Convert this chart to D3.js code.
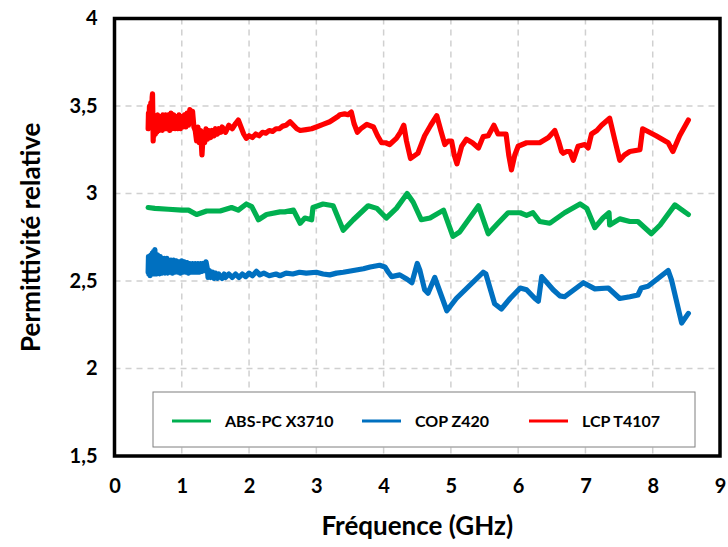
<!DOCTYPE html>
<html><head><meta charset="utf-8">
<script src="https://cdn.jsdelivr.net/npm/d3@7"></script>
<style>body{margin:0;background:#fff;font-family:Lato,"Open Sans",sans-serif;}</style>
</head><body><svg id="c" width="728" height="547"></svg>
<script>
const xTicks=[0,1,2,3,4,5,6,7,8,9];
const yTicks=[1.5,2,2.5,3,3.5,4];
const yTickLabels=["1,5","2","2,5","3","3,5","4"];
const seriesNames=["ABS-PC X3710","COP Z420","LCP T4107"];
const seriesColors=["#00B050","#0070C0","#FF0000"];

const absPc=[[0.50,2.92],[0.6,2.915],[0.8,2.91],[1.0,2.905],[1.10,2.905],[1.22,2.88],[1.37,2.90],[1.57,2.90],[1.74,2.92],[1.84,2.905],[1.96,2.94],[2.04,2.925],[2.14,2.85],[2.26,2.88],[2.46,2.895],[2.53,2.895],[2.66,2.905],[2.76,2.83],[2.83,2.86],[2.93,2.85],[2.95,2.92],[3.10,2.94],[3.25,2.93],[3.40,2.79],[3.55,2.85],[3.77,2.93],[3.90,2.915],[4.04,2.86],[4.19,2.915],[4.35,3.00],[4.44,2.95],[4.56,2.85],[4.69,2.86],[4.89,2.905],[5.03,2.755],[5.13,2.78],[5.41,2.93],[5.555,2.77],[5.70,2.83],[5.85,2.89],[6.03,2.89],[6.125,2.875],[6.22,2.89],[6.32,2.84],[6.47,2.83],[6.69,2.89],[6.92,2.94],[7.02,2.915],[7.14,2.805],[7.26,2.86],[7.35,2.89],[7.36,2.82],[7.51,2.855],[7.66,2.84],[7.78,2.84],[7.98,2.77],[8.11,2.82],[8.33,2.935],[8.53,2.88]];

const copZ=[[0.50,2.55],[0.505,2.64],[0.51,2.54],[0.52,2.63],[0.53,2.53],[0.54,2.65],[0.55,2.54],[0.56,2.66],[0.57,2.55],[0.58,2.67],[0.59,2.54],[0.60,2.68],[0.61,2.55],[0.62,2.64],[0.63,2.54],[0.64,2.65],[0.65,2.545],[0.66,2.63],[0.67,2.54],[0.68,2.64],[0.69,2.55],[0.70,2.63],[0.71,2.545],[0.72,2.62],[0.73,2.55],[0.74,2.63],[0.75,2.545],[0.76,2.62],[0.77,2.55],[0.78,2.63],[0.79,2.545],[0.80,2.62],[0.82,2.55],[0.84,2.62],[0.86,2.545],[0.88,2.62],[0.90,2.55],[0.92,2.615],[0.94,2.55],[0.96,2.61],[0.98,2.545],[1.00,2.615],[1.02,2.55],[1.04,2.61],[1.06,2.55],[1.08,2.605],[1.10,2.545],[1.12,2.60],[1.14,2.55],[1.16,2.60],[1.18,2.55],[1.20,2.60],[1.22,2.55],[1.24,2.60],[1.26,2.55],[1.28,2.60],[1.30,2.555],[1.32,2.60],[1.34,2.56],[1.36,2.61],[1.38,2.57],[1.39,2.52],[1.41,2.56],[1.43,2.52],[1.46,2.55],[1.48,2.515],[1.50,2.545],[1.53,2.515],[1.55,2.54],[1.60,2.515],[1.63,2.54],[1.65,2.52],[1.70,2.54],[1.75,2.52],[1.80,2.54],[1.85,2.52],[1.90,2.54],[1.95,2.525],[2.00,2.545],[2.05,2.53],[2.11,2.555],[2.16,2.535],[2.22,2.545],[2.30,2.53],[2.40,2.54],[2.46,2.53],[2.55,2.545],[2.65,2.54],[2.75,2.55],[2.85,2.545],[3.00,2.55],[3.10,2.54],[3.20,2.535],[3.30,2.545],[3.40,2.55],[3.55,2.56],[3.70,2.57],[3.80,2.58],[3.94,2.59],[4.02,2.58],[4.07,2.55],[4.12,2.525],[4.24,2.535],[4.35,2.51],[4.42,2.49],[4.50,2.60],[4.54,2.56],[4.61,2.45],[4.66,2.43],[4.76,2.52],[4.94,2.33],[5.08,2.40],[5.48,2.55],[5.52,2.54],[5.65,2.37],[5.75,2.34],[5.88,2.40],[6.03,2.46],[6.125,2.45],[6.25,2.40],[6.30,2.385],[6.35,2.525],[6.52,2.45],[6.62,2.415],[6.69,2.41],[6.97,2.49],[7.14,2.455],[7.34,2.46],[7.51,2.40],[7.66,2.41],[7.78,2.42],[7.83,2.46],[7.93,2.47],[8.23,2.56],[8.28,2.505],[8.43,2.26],[8.53,2.315]];

const lcpT=[[0.50,3.37],[0.505,3.46],[0.51,3.38],[0.52,3.50],[0.53,3.38],[0.54,3.52],[0.55,3.40],[0.56,3.55],[0.565,3.57],[0.57,3.44],[0.575,3.30],[0.58,3.40],[0.59,3.33],[0.60,3.44],[0.61,3.34],[0.62,3.43],[0.63,3.35],[0.64,3.45],[0.65,3.36],[0.66,3.44],[0.67,3.36],[0.68,3.44],[0.69,3.37],[0.70,3.44],[0.71,3.36],[0.72,3.45],[0.73,3.37],[0.74,3.44],[0.75,3.37],[0.76,3.45],[0.77,3.37],[0.78,3.44],[0.79,3.37],[0.80,3.45],[0.82,3.36],[0.84,3.46],[0.86,3.37],[0.88,3.45],[0.90,3.37],[0.92,3.44],[0.94,3.37],[0.96,3.45],[0.98,3.37],[1.00,3.44],[1.02,3.38],[1.04,3.45],[1.06,3.38],[1.08,3.46],[1.10,3.39],[1.12,3.48],[1.14,3.41],[1.16,3.47],[1.18,3.38],[1.20,3.36],[1.22,3.30],[1.24,3.38],[1.26,3.29],[1.28,3.36],[1.30,3.22],[1.32,3.35],[1.34,3.29],[1.36,3.37],[1.38,3.31],[1.40,3.36],[1.43,3.32],[1.45,3.36],[1.48,3.33],[1.50,3.37],[1.53,3.34],[1.55,3.37],[1.58,3.35],[1.60,3.38],[1.65,3.35],[1.70,3.39],[1.75,3.37],[1.80,3.40],[1.84,3.42],[1.88,3.38],[1.92,3.34],[1.96,3.315],[2.00,3.33],[2.05,3.32],[2.10,3.34],[2.15,3.33],[2.20,3.35],[2.25,3.345],[2.30,3.36],[2.35,3.355],[2.40,3.37],[2.45,3.37],[2.50,3.385],[2.55,3.39],[2.61,3.41],[2.66,3.39],[2.71,3.37],[2.76,3.36],[2.85,3.365],[2.93,3.37],[3.00,3.38],[3.10,3.395],[3.20,3.41],[3.28,3.43],[3.32,3.44],[3.35,3.45],[3.42,3.455],[3.47,3.45],[3.52,3.465],[3.56,3.40],[3.61,3.35],[3.66,3.37],[3.75,3.395],[3.85,3.38],[3.91,3.33],[3.97,3.29],[4.03,3.29],[4.09,3.28],[4.19,3.315],[4.25,3.35],[4.30,3.39],[4.34,3.30],[4.40,3.20],[4.51,3.23],[4.61,3.33],[4.70,3.39],[4.79,3.445],[4.85,3.36],[4.91,3.28],[4.96,3.30],[5.01,3.30],[5.05,3.22],[5.09,3.17],[5.16,3.27],[5.23,3.31],[5.32,3.29],[5.41,3.26],[5.48,3.325],[5.555,3.33],[5.64,3.39],[5.70,3.34],[5.82,3.34],[5.86,3.22],[5.90,3.135],[5.95,3.22],[6.0,3.27],[6.125,3.29],[6.32,3.29],[6.45,3.32],[6.545,3.36],[6.60,3.30],[6.645,3.24],[6.67,3.23],[6.72,3.24],[6.77,3.24],[6.80,3.21],[6.82,3.19],[6.89,3.27],[6.99,3.28],[7.04,3.26],[7.09,3.34],[7.17,3.36],[7.24,3.39],[7.36,3.43],[7.44,3.30],[7.51,3.19],[7.58,3.22],[7.66,3.24],[7.81,3.25],[7.85,3.37],[8.05,3.33],[8.23,3.29],[8.30,3.24],[8.40,3.33],[8.53,3.42]];

const seriesData=[absPc,copZ,lcpT];

const svg=d3.select("#c");
const L=114.5,R=720,T=18.5,B=456;
const x=d3.scaleLinear().domain([0,9]).range([L,R]);
const y=d3.scaleLinear().domain([1.5,4]).range([B,T]);

// grid
svg.append("g").selectAll("line").data(xTicks.filter(d=>d>0&&d<9)).join("line")
 .attr("x1",d=>x(d)).attr("x2",d=>x(d)).attr("y1",T).attr("y2",B)
 .attr("stroke","#d0d0d0").attr("stroke-width",1.5).attr("stroke-dasharray","6,5");
svg.append("g").selectAll("line").data(yTicks.filter(d=>d>1.5&&d<4)).join("line")
 .attr("x1",L).attr("x2",R).attr("y1",d=>y(d)).attr("y2",d=>y(d))
 .attr("stroke","#d0d0d0").attr("stroke-width",1.5).attr("stroke-dasharray","6,5");

// axes (labels only)
const xAxis=d3.axisBottom(x).tickValues(xTicks).tickSize(0).tickPadding(23).tickFormat(d3.format("d"));
const gx=svg.append("g").attr("transform",`translate(0,${B})`).call(xAxis);
gx.select(".domain").remove();
gx.selectAll("text").attr("font-size",20).attr("font-weight","bold").attr("fill","#000").attr("font-family","Lato");
const yAxis=d3.axisLeft(y).tickValues(yTicks).tickSize(0).tickPadding(17).tickFormat((d,i)=>yTickLabels[i]);
const gy=svg.append("g").attr("transform",`translate(${L},0)`).call(yAxis);
gy.select(".domain").remove();
gy.selectAll("text").attr("font-size",20).attr("font-weight","bold").attr("fill","#000").attr("font-family","Lato");

// lines
const line=d3.line().x(d=>x(d[0])).y(d=>y(d[1]));
seriesData.forEach((s,i)=>{
 svg.append("path").datum(s).attr("d",line).attr("fill","none")
  .attr("stroke",seriesColors[i]).attr("stroke-width",5.2).attr("stroke-linejoin","round").attr("stroke-linecap","round");
});

// frame
svg.append("rect").attr("x",L).attr("y",T).attr("width",R-L).attr("height",B-T)
 .attr("fill","none").attr("stroke","#000").attr("stroke-width",3.5);

// legend
svg.append("rect").attr("x",153).attr("y",392).attr("width",542).attr("height",55)
 .attr("fill","#fff").attr("stroke","#7f7f7f").attr("stroke-width",1);
const legX=[172,362,529];
seriesNames.forEach((n,i)=>{
 svg.append("line").attr("x1",legX[i]).attr("x2",legX[i]+39).attr("y1",421).attr("y2",421)
  .attr("stroke",seriesColors[i]).attr("stroke-width",3);
 svg.append("text").attr("x",legX[i]+53).attr("y",427).text(n)
  .attr("font-size",16).attr("font-weight","bold").attr("font-family","Lato");
});

// titles
svg.append("text").attr("x",(L+R)/2).attr("y",535).attr("text-anchor","middle")
 .attr("font-size",26).attr("font-weight","bold").attr("font-family","Lato").text("Fréquence (GHz)");
svg.append("text").attr("transform",`translate(40,${(T+B)/2}) rotate(-90)`).attr("text-anchor","middle")
 .attr("font-size",26).attr("font-weight","bold").attr("font-family","Lato").text("Permittivité relative");
</script></body></html>
